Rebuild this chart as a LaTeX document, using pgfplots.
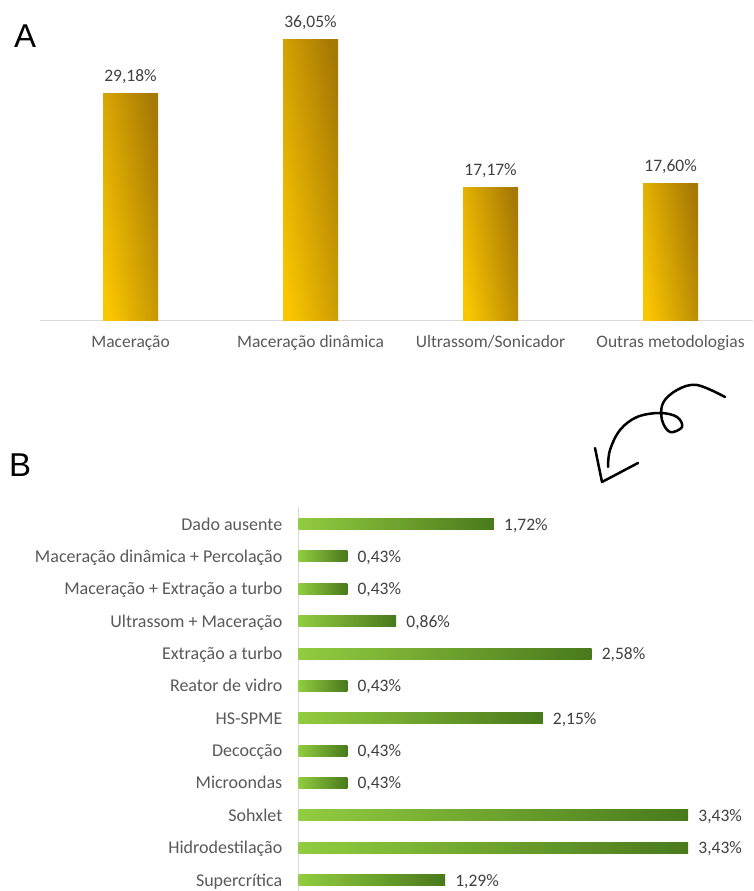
\documentclass[border=0pt]{standalone}
\usepackage{pgfplots}
\pgfplotsset{compat=1.18}
\usepackage{fontspec}
\setmainfont{Carlito}
\newfontfamily\panelfont{Liberation Sans}

\definecolor{ticktext}{HTML}{595959}
\definecolor{valtext}{HTML}{404040}
\definecolor{axisgray}{HTML}{D9D9D9}
\definecolor{goldlight}{RGB}{250,198,0}
\definecolor{golddark}{RGB}{166,120,4}
\definecolor{greenlight}{RGB}{146,204,64}
\definecolor{greendark}{RGB}{72,122,28}

\newcommand{\chartfont}{\fontsize{17.5}{21}\selectfont}
\newcommand{\rowfont}{\fontsize{18}{21}\selectfont}

% one shaded bar per plot, so that every bar carries its own gradient
\pgfplotsset{
  goldbar/.style={ybar, bar width=55pt, bar shift=0pt, draw=none,
    left color=goldlight, right color=golddark, shading angle=100},
  greenbar/.style={xbar, bar width=11pt, bar shift=0pt, draw=none,
    left color=greenlight, right color=greendark},
}

\begin{document}
\begin{tikzpicture}[x=1pt,y=1pt]
\useasboundingbox (0,0) rectangle (753,891);

% Panel A: main extraction methods
\begin{axis}[
  at={(40pt,570pt)}, anchor=south west,
  scale only axis, width=713pt, height=321pt,
  xmin=-0.503, xmax=3.458, ymin=0, ymax=41.15,
  clip=false,
  axis y line=none,
  axis x line*=bottom,
  x axis line style={draw=axisgray, line width=1pt},
  xtick={0,1,2,3},
  xticklabels={Maceração, Maceração dinâmica, Ultrassom/Sonicador, Outras metodologias},
  major tick length=0pt,
  xticklabel style={anchor=base, inner sep=0pt, yshift=-27pt, font=\chartfont, text=ticktext},
  /pgf/number format/assume math mode=true,
  point meta=y,
  nodes near coords={\pgfmathprintnumber[fixed,fixed zerofill,precision=2,use comma]{\pgfplotspointmeta}\%},
  nodes near coords style={anchor=base, inner sep=0pt, yshift=12pt, font=\chartfont, text=valtext},
]
\addplot[goldbar] coordinates {(0,29.18)};
\addplot[goldbar] coordinates {(1,36.05)};
\addplot[goldbar] coordinates {(2,17.17)};
\addplot[goldbar] coordinates {(3,17.60)};
\end{axis}

% Panel B: breakdown of the remaining methods
\begin{axis}[
  at={(298.5pt,384pt)}, anchor=north west,
  scale only axis, width=454.5pt, height=384pt,
  xmin=0, xmax=4, ymin=-0.34, ymax=11.53,
  clip=false,
  axis x line=none,
  axis y line*=left,
  y axis line style={draw=axisgray, line width=1pt},
  ytick={0,...,11},
  yticklabels={Supercrítica, Hidrodestilação, Sohxlet, Microondas, Decocção, HS-SPME,
    Reator de vidro, Extração a turbo, Ultrassom + Maceração,
    Maceração + Extração a turbo, Maceração dinâmica + Percolação, Dado ausente},
  major tick length=0pt,
  yticklabel style={anchor=base east, inner sep=0pt, xshift=-16pt, yshift=-6pt, font=\rowfont, text=ticktext},
  /pgf/number format/assume math mode=true,
  point meta=x,
  nodes near coords={\pgfmathprintnumber[fixed,fixed zerofill,precision=2,use comma]{\pgfplotspointmeta}\%},
  nodes near coords style={anchor=base west, inner sep=0pt, xshift=10pt, yshift=-6pt, font=\chartfont, text=valtext},
]
\addplot[greenbar] coordinates {(1.29,0)};
\addplot[greenbar] coordinates {(3.43,1)};
\addplot[greenbar] coordinates {(3.43,2)};
\addplot[greenbar] coordinates {(0.43,3)};
\addplot[greenbar] coordinates {(0.43,4)};
\addplot[greenbar] coordinates {(2.15,5)};
\addplot[greenbar] coordinates {(0.43,6)};
\addplot[greenbar] coordinates {(2.58,7)};
\addplot[greenbar] coordinates {(0.86,8)};
\addplot[greenbar] coordinates {(0.43,9)};
\addplot[greenbar] coordinates {(0.43,10)};
\addplot[greenbar] coordinates {(1.72,11)};
\end{axis}

% panel letters
\node[anchor=base west, inner sep=0pt, font=\panelfont\fontsize{33}{36}\selectfont] at (14,843) {A};
\node[anchor=base west, inner sep=0pt, font=\panelfont\fontsize{33}{36}\selectfont] at (9,414) {B};

% hand-drawn curly arrow between the panels
\draw[line width=2.5pt, line cap=round, line join=round]
  plot[smooth, tension=0.6] coordinates {
    (725,494) (697,506) (677,501) (663,488) (662,471) (670,459)
    (682,464) (677,474) (660,478) (637,474) (620,461) (610,441) (608,424)
  };
\draw[line width=2.5pt, line cap=round, line join=round]
  (595,443) -- (602,409) -- (638,428);
\end{tikzpicture}
\end{document}
